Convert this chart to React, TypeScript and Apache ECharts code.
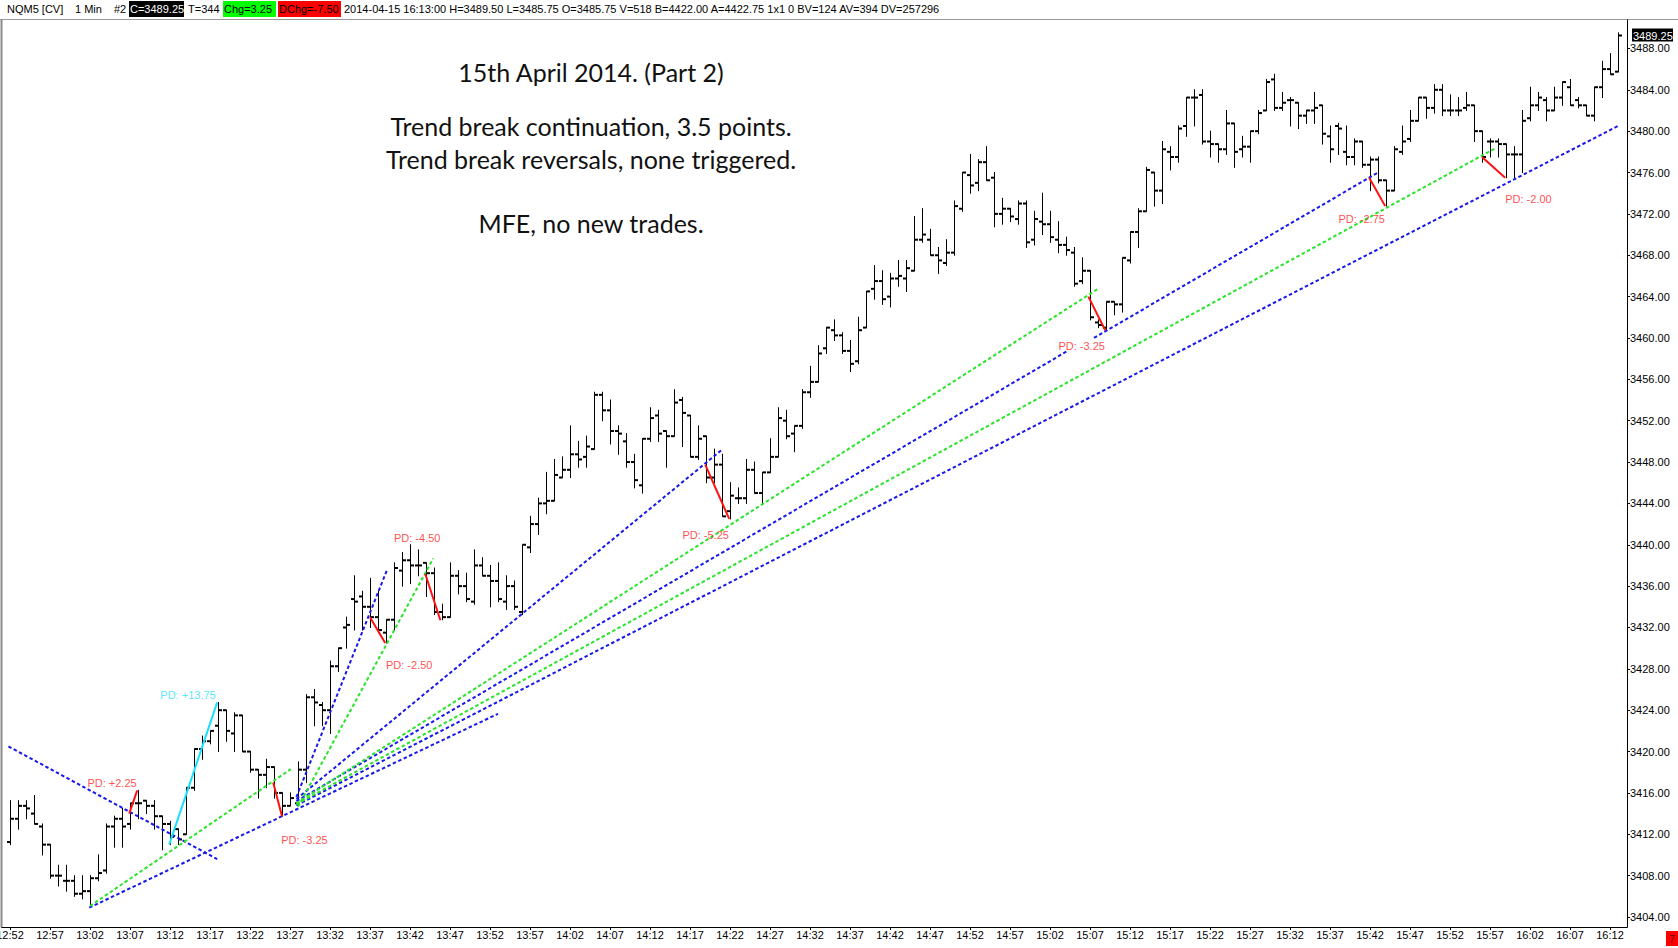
import React, { useEffect, useRef } from "react";
import * as echarts from "echarts";

// ---- data ----
const sessionStart = 12 * 60 + 52; // first bar 12:52 (1-minute bars)

const opens = [
  3411.25, 3413.5, 3414.75, 3414.0, 3412.75, 3411.0, 3408.0, 3407.5, 3407.5, 3406.25,
  3406.5, 3407.75, 3408.5, 3412.75, 3413.5, 3413.0, 3415.0, 3415.25, 3414.75, 3413.75,
  3413.0, 3412.5, 3412.0, 3416.5, 3420.25, 3421.0, 3422.5, 3424.0, 3421.75, 3423.5,
  3420.0, 3418.25, 3417.75, 3418.5, 3416.0, 3414.75, 3415.0, 3418.25, 3425.25, 3424.5,
  3424.0, 3428.25, 3432.0, 3434.75, 3435.0, 3434.0, 3433.0, 3431.5, 3432.75, 3437.5,
  3438.5, 3438.0, 3438.25, 3437.25, 3433.5, 3433.0, 3437.0, 3436.0, 3434.5, 3438.0,
  3437.0, 3436.5, 3434.5, 3436.0, 3433.5, 3439.75, 3442.0, 3444.0, 3444.25, 3446.5,
  3447.25, 3448.75, 3448.5, 3449.25, 3454.5, 3453.0, 3451.0, 3450.0, 3448.0, 3445.75,
  3450.25, 3452.5, 3451.0, 3450.5, 3454.0, 3452.5, 3448.5, 3450.5, 3446.5, 3447.75,
  3443.25, 3444.5, 3444.5, 3447.25, 3445.0, 3447.0, 3448.5, 3452.0, 3450.75, 3451.5,
  3454.75, 3455.75, 3459.0, 3460.75, 3460.25, 3458.75, 3457.75, 3461.0, 3464.75, 3465.5,
  3464.0, 3465.75, 3465.75, 3466.5, 3469.5, 3469.5, 3468.0, 3467.25, 3468.25, 3472.5,
  3475.75, 3475.0, 3477.0, 3475.5, 3472.0, 3472.5, 3471.5, 3473.0, 3469.5, 3471.25,
  3471.0, 3469.5, 3469.0, 3468.25, 3465.5, 3466.5, 3461.5, 3461.0, 3463.5, 3463.25,
  3467.5, 3470.25, 3472.25, 3476.0, 3474.25, 3478.0, 3477.5, 3480.5, 3483.25, 3483.5,
  3479.0, 3478.75, 3478.25, 3480.75, 3478.25, 3478.5, 3480.0, 3482.0, 3485.0, 3482.25,
  3483.0, 3482.75, 3481.5, 3482.0, 3482.5, 3479.5, 3480.5, 3478.0, 3477.5, 3479.0,
  3476.75, 3477.25, 3475.25, 3474.25, 3478.0, 3479.25, 3481.0, 3483.25, 3482.25, 3484.0,
  3482.0, 3482.0, 3482.25, 3482.5, 3480.0, 3479.0, 3479.0, 3478.75, 3477.75, 3477.75,
  3481.25, 3482.5, 3483.0, 3482.0, 3483.25, 3484.25, 3483.0, 3482.5, 3481.5, 3484.25,
  3486.0, 3485.75,
];
const highs = [
  3415.25, 3415.25, 3415.25, 3415.75, 3413.0, 3411.0, 3409.0, 3409.0, 3408.0, 3408.0,
  3408.0, 3410.0, 3413.0, 3413.75, 3414.5, 3415.0, 3416.25, 3415.25, 3415.25, 3413.75,
  3413.25, 3412.5, 3416.5, 3420.25, 3421.5, 3422.0, 3424.75, 3424.0, 3423.75, 3423.5,
  3420.0, 3418.25, 3419.25, 3418.5, 3416.0, 3416.0, 3419.0, 3425.5, 3426.0, 3424.75,
  3428.75, 3430.0, 3433.0, 3437.0, 3435.5, 3436.75, 3435.5, 3432.75, 3438.25, 3439.25,
  3440.0, 3439.5, 3438.25, 3437.75, 3434.25, 3438.25, 3437.5, 3437.25, 3439.5, 3438.75,
  3438.0, 3438.25, 3437.0, 3436.5, 3440.0, 3442.75, 3444.5, 3447.0, 3448.25, 3448.5,
  3451.5, 3450.0, 3450.5, 3454.75, 3454.75, 3454.0, 3451.5, 3450.75, 3448.75, 3450.25,
  3453.25, 3453.0, 3451.0, 3455.0, 3454.25, 3452.5, 3451.5, 3450.5, 3449.25, 3448.75,
  3446.0, 3445.5, 3448.25, 3448.0, 3447.0, 3450.25, 3453.25, 3453.0, 3451.5, 3455.0,
  3457.25, 3459.25, 3461.0, 3461.75, 3460.5, 3459.75, 3462.0, 3464.5, 3467.0, 3466.5,
  3466.25, 3467.5, 3467.5, 3471.75, 3472.5, 3470.5, 3468.75, 3469.5, 3473.25, 3476.0,
  3477.75, 3477.25, 3478.5, 3476.0, 3473.5, 3472.5, 3473.25, 3473.25, 3472.25, 3474.0,
  3472.25, 3471.25, 3469.75, 3468.75, 3467.75, 3466.5, 3461.75, 3463.5, 3463.5, 3467.75,
  3470.25, 3472.5, 3476.5, 3476.0, 3479.0, 3478.5, 3480.5, 3483.25, 3484.0, 3484.0,
  3480.0, 3478.75, 3482.0, 3480.75, 3479.5, 3480.0, 3482.0, 3485.0, 3485.5, 3483.75,
  3483.25, 3482.75, 3482.0, 3483.75, 3482.5, 3480.5, 3480.75, 3480.5, 3479.25, 3479.0,
  3477.5, 3477.5, 3475.25, 3478.5, 3480.5, 3482.0, 3483.25, 3483.25, 3484.5, 3484.5,
  3483.5, 3483.25, 3483.75, 3482.5, 3480.0, 3479.25, 3479.25, 3478.75, 3478.5, 3482.0,
  3484.25, 3483.75, 3483.25, 3484.25, 3484.75, 3485.0, 3483.25, 3482.5, 3484.25, 3486.75,
  3487.5, 3489.5,
];
const lows = [
  3411.0, 3412.5, 3413.5, 3413.0, 3410.0, 3407.75, 3407.0, 3406.5, 3406.0, 3405.75,
  3405.0, 3407.5, 3408.25, 3410.75, 3410.75, 3412.5, 3413.5, 3414.0, 3412.5, 3410.5,
  3411.0, 3411.0, 3412.0, 3416.25, 3419.25, 3420.75, 3420.0, 3421.0, 3420.0, 3420.0,
  3418.0, 3415.5, 3416.5, 3415.5, 3413.75, 3414.75, 3415.0, 3417.0, 3422.5, 3422.5,
  3421.75, 3427.75, 3430.0, 3431.75, 3431.75, 3432.0, 3431.5, 3430.5, 3431.75, 3436.0,
  3436.25, 3437.0, 3435.0, 3433.25, 3432.75, 3433.0, 3435.25, 3434.5, 3434.25, 3437.0,
  3434.0, 3434.5, 3433.75, 3433.75, 3433.25, 3439.25, 3441.0, 3443.0, 3444.25, 3446.5,
  3446.5, 3447.5, 3447.5, 3449.25, 3452.0, 3449.75, 3448.75, 3447.5, 3445.5, 3445.0,
  3450.0, 3450.0, 3447.5, 3450.5, 3449.5, 3448.5, 3448.25, 3446.0, 3446.0, 3442.75,
  3442.5, 3444.0, 3444.0, 3445.0, 3444.0, 3447.0, 3448.5, 3450.25, 3449.0, 3451.25,
  3454.25, 3455.75, 3458.5, 3459.75, 3458.5, 3456.75, 3457.5, 3461.0, 3463.75, 3463.25,
  3463.0, 3465.0, 3464.5, 3466.5, 3469.25, 3468.0, 3466.25, 3467.0, 3468.0, 3472.25,
  3474.0, 3474.25, 3475.25, 3470.75, 3471.0, 3471.25, 3471.0, 3468.75, 3469.0, 3470.0,
  3469.25, 3468.25, 3468.0, 3465.0, 3465.25, 3461.75, 3461.0, 3460.75, 3462.25, 3462.5,
  3467.25, 3468.75, 3472.25, 3472.75, 3473.0, 3476.25, 3477.0, 3479.5, 3480.5, 3478.75,
  3477.5, 3477.0, 3477.75, 3476.5, 3477.5, 3477.0, 3479.75, 3482.0, 3482.0, 3482.0,
  3480.5, 3480.25, 3480.75, 3480.75, 3478.75, 3477.0, 3477.75, 3476.75, 3476.75, 3476.5,
  3474.25, 3475.0, 3472.75, 3474.25, 3477.75, 3479.0, 3481.0, 3481.25, 3481.75, 3481.5,
  3481.5, 3481.5, 3482.0, 3479.0, 3477.0, 3477.5, 3477.5, 3475.5, 3475.5, 3476.0,
  3481.0, 3482.0, 3481.0, 3482.0, 3482.5, 3482.5, 3482.25, 3481.5, 3481.0, 3483.25,
  3485.5, 3485.75,
];
const closes = [
  3413.5, 3414.75, 3414.5, 3413.0, 3411.0, 3408.0, 3408.0, 3407.5, 3406.25, 3406.5,
  3407.75, 3408.25, 3412.75, 3413.5, 3412.75, 3415.0, 3415.0, 3414.75, 3413.75, 3413.0,
  3411.75, 3411.5, 3416.5, 3420.25, 3421.0, 3422.0, 3424.0, 3422.0, 3423.5, 3420.0,
  3418.25, 3417.75, 3418.5, 3416.0, 3414.75, 3415.5, 3418.25, 3425.25, 3424.75, 3424.0,
  3428.25, 3430.0, 3432.25, 3434.5, 3434.0, 3433.0, 3431.75, 3432.75, 3437.75, 3438.5,
  3438.0, 3438.0, 3437.25, 3433.5, 3433.0, 3437.0, 3436.0, 3434.75, 3438.0, 3437.0,
  3436.5, 3434.75, 3436.0, 3434.0, 3440.0, 3442.0, 3444.0, 3444.25, 3446.75, 3447.25,
  3448.75, 3448.25, 3449.5, 3454.5, 3453.0, 3451.0, 3450.75, 3448.0, 3446.25, 3450.25,
  3452.25, 3450.75, 3450.5, 3453.75, 3452.75, 3448.5, 3450.25, 3446.5, 3447.75, 3442.75,
  3444.75, 3444.5, 3447.25, 3445.0, 3447.0, 3448.5, 3452.25, 3450.5, 3451.5, 3454.75,
  3455.75, 3458.5, 3461.0, 3460.25, 3458.75, 3457.5, 3460.75, 3464.5, 3465.5, 3463.75,
  3465.75, 3466.0, 3466.75, 3469.5, 3470.0, 3468.0, 3467.5, 3468.25, 3472.75, 3476.0,
  3474.75, 3477.0, 3475.25, 3472.0, 3472.5, 3471.75, 3473.0, 3469.25, 3471.5, 3471.0,
  3469.75, 3469.0, 3468.5, 3465.25, 3466.5, 3462.0, 3461.25, 3463.5, 3463.25, 3467.75,
  3470.25, 3472.25, 3476.25, 3474.25, 3478.25, 3477.5, 3480.25, 3483.25, 3483.25, 3479.0,
  3478.75, 3478.25, 3480.75, 3478.0, 3478.5, 3480.0, 3481.75, 3484.75, 3482.25, 3482.75,
  3483.0, 3481.5, 3482.0, 3482.25, 3479.75, 3478.25, 3480.25, 3477.5, 3479.0, 3476.75,
  3477.25, 3475.25, 3474.25, 3478.25, 3479.0, 3481.0, 3483.25, 3482.25, 3484.0, 3482.0,
  3482.0, 3482.0, 3482.5, 3480.0, 3477.5, 3479.0, 3478.75, 3477.75, 3477.75, 3481.0,
  3482.5, 3483.25, 3482.0, 3483.25, 3484.75, 3482.5, 3482.5, 3481.5, 3484.25, 3486.0,
  3485.5, 3489.25,
];

// axis ranges / ticks
const xMin = -1;
const xMax = 202.125;
const xTickMinutes = Array.from({ length: 41 }, (_, k) => k * 5); // 12:52 ... 16:12
const yMin = 3403.033;
const yMax = 3490.75;
const yTickPrices = Array.from({ length: 22 }, (_, k) => 3404 + k * 4); // 3404 ... 3488

// trend lines: [minute1, price1, minute2, price2]
const blueLines = [
  [-0.2, 3420.5, 25.9, 3409.6],
  [9.9, 3404.9, 61, 3423.65],
  [35.8, 3415.6, 47.2, 3437.7],
  [35.8, 3415.4, 89, 3449.2],
  [35.8, 3415.2, 132.1, 3458.7],
  [35.8, 3414.8, 201, 3480.5],
  [135.5, 3460.0, 171, 3476.0],
];
const greenLines = [
  [10, 3405.06, 35.1, 3418.3],
  [36.0, 3414.65, 52.9, 3438.67],
  [35.8, 3415.0, 135.9, 3464.7],
  [35.8, 3414.9, 185.8, 3478.4],
];
const cyanLines = [[19.9, 3411.0, 25.9, 3424.75]];
const redLines = [
  [14.9, 3414.0, 15.9, 3416.25],
  [32.9, 3417.0, 34.0, 3413.75],
  [45.0, 3433.0, 46.9, 3430.5],
  [51.9, 3437.2, 53.8, 3432.7],
  [86.9, 3447.75, 89.9, 3442.5],
  [134.8, 3464.0, 136.9, 3460.75],
  [169.9, 3475.5, 171.9, 3472.75],
  [184.0, 3477.5, 186.9, 3475.5],
];
const labelTexts = ["PD: +2.25", "PD: +13.75", "PD: -3.25", "PD: -2.50", "PD: -4.50", "PD: -5.25", "PD: -3.25", "PD: -2.75", "PD: -2.00"];
const labelMinutes = [12.75, 22.25, 36.8, 49.9, 50.9, 86.96, 133.96, 168.96, 189.8];
const labelPrices = [3416.96, 3425.5, 3411.4, 3428.4, 3440.7, 3440.96, 3459.27, 3471.46, 3473.46];
const labelColors = ["#ff1c1c", "#2ee0ff", "#ff1c1c", "#ff1c1c", "#ff1c1c", "#ff1c1c", "#ff1c1c", "#ff1c1c", "#ff1c1c"];

const titleLines = [
  "15th April 2014. (Part 2)",
  "Trend break continuation, 3.5 points.",
  "Trend break reversals, none triggered.",
  "MFE, no new trades.",
];

const BLUE = "#1818ec";
const GREEN = "#28e428";
const CYAN = "#18e0ff";
const RED = "#ff1010";

function fmtTime(m: number) {
  const t = sessionStart + Math.round(m);
  const h = Math.floor(t / 60);
  const mm = t % 60;
  return `${h}:${mm < 10 ? "0" : ""}${mm}`;
}

function segSeries(segs: number[][], color: string, dashed: boolean, z: number) {
  return segs.map((s) => ({
    type: "line",
    data: [
      [s[0], s[1]],
      [s[2], s[3]],
    ],
    symbol: "none",
    silent: true,
    z,
    lineStyle: { color, width: 2, type: dashed ? [3.5, 2.5] : "solid" },
  }));
}

export default function App() {
  const ref = useRef<HTMLDivElement>(null);
  useEffect(() => {
    if (!ref.current) return;
    const chart = echarts.init(ref.current, undefined, { renderer: "svg" });
    const font = "Liberation Sans";
    const ohlcData = opens.map((o, i) => [i, o, highs[i], lows[i], closes[i]]);
    const last = closes[closes.length - 1];

    const headerPieces: any[] = [];
    const txt = (x: number, text: string, fill = "#000") => ({
      type: "text",
      x,
      y: 9,
      style: { text, fill, font: `11px '${font}'`, align: "left", verticalAlign: "middle" },
      z: 20,
    });
    const box = (x: number, w: number, fill: string) => ({
      type: "rect",
      shape: { x, y: 1, width: w, height: 16 },
      style: { fill },
      z: 19,
    });
    headerPieces.push(txt(7, "NQM5 [CV]"));
    headerPieces.push(txt(75, "1 Min"));
    headerPieces.push(txt(114, "#2"));
    headerPieces.push(box(129, 55, "#000"));
    headerPieces.push(txt(130, "C=3489.25", "#fff"));
    headerPieces.push(txt(188, "T=344"));
    headerPieces.push(box(223, 53, "#00ff00"));
    headerPieces.push(txt(224, "Chg=3.25"));
    headerPieces.push(box(278, 63, "#ff0000"));
    headerPieces.push(txt(279, "DChg=-7.50"));
    headerPieces.push(
      txt(344, "2014-04-15 16:13:00 H=3489.50 L=3485.75 O=3485.75 V=518 B=4422.00 A=4422.75 1x1 0 BV=124 AV=394 DV=257296")
    );

    const titleY = [71.5, 126.3, 158.8, 223];
    const titleEls = titleLines.map((t, i) => ({
      type: "text",
      x: 591,
      y: titleY[i],
      style: { text: t, fill: "#111", font: "25px Lato", align: "center", verticalAlign: "middle" },
      z: 20,
    }));

    const frame = [
      { type: "line", shape: { x1: 0, y1: 19.5, x2: 1678, y2: 19.5 }, style: { stroke: "#9a9a9a", lineWidth: 1 } },
      { type: "line", shape: { x1: 1.5, y1: 19.5, x2: 1.5, y2: 927.5 }, style: { stroke: "#8a8a8a", lineWidth: 2 } },
      { type: "line", shape: { x1: 1.5, y1: 927.5, x2: 1627.5, y2: 927.5 }, style: { stroke: "#000", lineWidth: 1 } },
      { type: "line", shape: { x1: 1627.5, y1: 19.5, x2: 1627.5, y2: 927.5 }, style: { stroke: "#000", lineWidth: 1 } },
      { type: "rect", shape: { x: 1666, y: 931, width: 12, height: 15 }, style: { fill: "#ff0000" } },
      {
        type: "text",
        x: 1672,
        y: 938.5,
        style: { text: "7", fill: "#600", font: `11px '${font}'`, align: "center", verticalAlign: "middle" },
      },
    ];

    const option: any = {
      animation: false,
      backgroundColor: "#ffffff",
      grid: {
        left: 2,
        right: 51,
        top: 20,
        bottom: 21,
        containLabel: false,
        outerBoundsMode: "none",
      },
      xAxis: {
        type: "value",
        min: xMin,
        max: xMax,
        position: "bottom",
        axisLine: { show: false, onZero: false },
        axisTick: { show: true, length: 3, lineStyle: { color: "#000" }, customValues: xTickMinutes },
        splitLine: { show: false },
        axisLabel: {
          color: "#000",
          fontSize: 11,
          fontFamily: font,
          margin: 2,
          customValues: xTickMinutes,
          formatter: (v: number) => fmtTime(v),
        },
      },
      yAxis: {
        type: "value",
        min: yMin,
        max: yMax,
        position: "right",
        axisLine: { show: false, onZero: false },
        axisTick: { show: true, length: 3, lineStyle: { color: "#000" }, customValues: yTickPrices },
        splitLine: { show: false },
        axisLabel: {
          color: "#000",
          fontSize: 11,
          fontFamily: font,
          margin: 3,
          customValues: yTickPrices,
          formatter: (v: number) => v.toFixed(2),
        },
      },
      graphic: [...frame, ...headerPieces, ...titleEls],
      series: [
        {
          type: "custom",
          name: "NQM5",
          data: ohlcData,
          encode: { x: 0, y: [1, 2, 3, 4] },
          z: 2,
          silent: true,
          renderItem: (_p: any, api: any) => {
            const i = api.value(0);
            const pH = api.coord([i, api.value(2)]);
            const pL = api.coord([i, api.value(3)]);
            const pO = api.coord([i, api.value(1)]);
            const pC = api.coord([i, api.value(4)]);
            const x = Math.round(pH[0]) + 0.5;
            return {
              type: "group",
              children: [
                { type: "line", shape: { x1: x, y1: pH[1] - 0.5, x2: x, y2: pL[1] + 0.5 }, style: { stroke: "#000", lineWidth: 1 } },
                { type: "line", shape: { x1: x - 3.5, y1: pO[1], x2: x, y2: pO[1] }, style: { stroke: "#000", lineWidth: 2 } },
                { type: "line", shape: { x1: x, y1: pC[1], x2: x + 3.5, y2: pC[1] }, style: { stroke: "#000", lineWidth: 2 } },
              ],
            };
          },
        },
        ...segSeries(blueLines, BLUE, true, 3),
        ...segSeries(greenLines, GREEN, true, 3),
        ...segSeries(cyanLines, CYAN, false, 4),
        ...segSeries(redLines, RED, false, 4),
        {
          type: "scatter",
          silent: true,
          z: 5,
          symbolSize: 1,
          itemStyle: { color: "transparent" },
          data: labelTexts.map((t, i) => ({
            value: [labelMinutes[i], labelPrices[i]],
            name: t,
            label: { color: labelColors[i] },
          })),
          label: { show: true, position: "inside", formatter: "{b}", fontSize: 11, fontFamily: font },
        },
        {
          type: "custom",
          clip: false,
          silent: true,
          z: 10,
          data: [[xMax, last]],
          renderItem: (_p: any, api: any) => {
            const pt = api.coord([api.value(0), api.value(1)]);
            return {
              type: "group",
              children: [
                { type: "rect", shape: { x: pt[0] + 5, y: pt[1] - 7, width: 41, height: 13 }, style: { fill: "#000" } },
                {
                  type: "text",
                  style: {
                    text: Number(api.value(1)).toFixed(2),
                    x: pt[0] + 6,
                    y: pt[1],
                    fill: "#fff",
                    font: `11px '${font}'`,
                    align: "left",
                    verticalAlign: "middle",
                  },
                },
              ],
            };
          },
        },
      ],
    };
    chart.setOption(option);
    return () => chart.dispose();
  }, []);
  return (
    <div style={{ position: "fixed", left: 0, top: 0, width: 1678, height: 948, background: "#fff" }}>
      <div ref={ref} style={{ width: 1678, height: 948 }} />
    </div>
  );
}
